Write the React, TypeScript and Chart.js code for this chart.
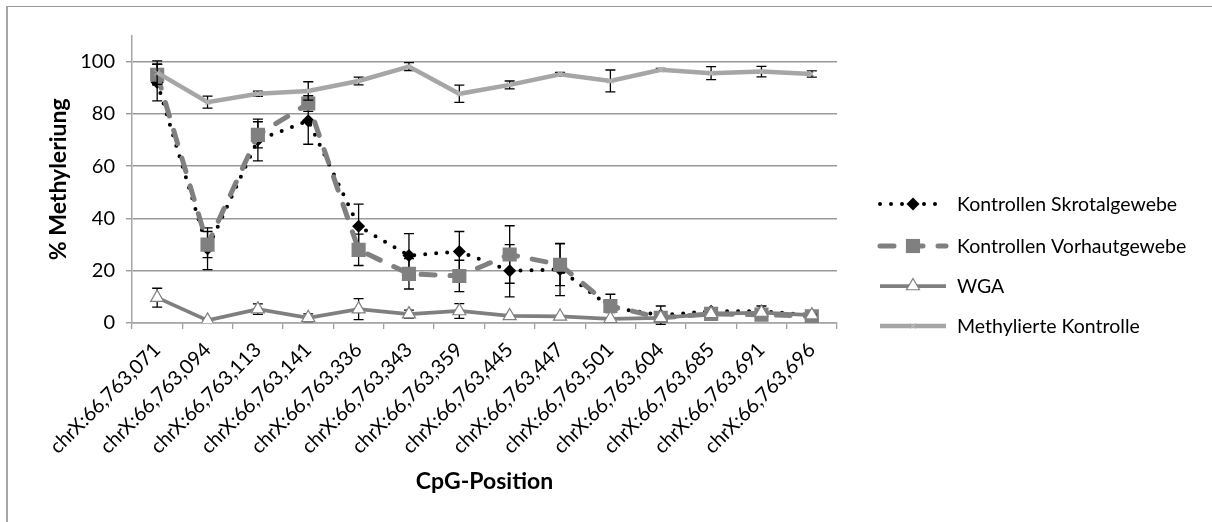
import React, { useEffect, useRef } from 'react';
import { Chart, registerables } from 'chart.js';

Chart.register(...registerables);

const categories = [
  'chrX:66,763,071', 'chrX:66,763,094', 'chrX:66,763,113', 'chrX:66,763,141',
  'chrX:66,763,336', 'chrX:66,763,343', 'chrX:66,763,359', 'chrX:66,763,445',
  'chrX:66,763,447', 'chrX:66,763,501', 'chrX:66,763,604', 'chrX:66,763,685',
  'chrX:66,763,691', 'chrX:66,763,696',
];

const skrotalValues = [92, 28.4, 70, 77.4, 37, 25.8, 27.4, 20, 20.5, 6, 3, 4.5, 4.5, 3];
const skrotalErrors = [7, 8, 8, 9, 8.5, 8.4, 7.6, 10, 10, 2, 3.5, 1, 2, 0.5];

const vorhautValues = [95, 30, 72, 84, 28, 18.8, 18, 26.2, 22.3, 6.5, 2, 3.5, 3.2, 2.6];
const vorhautErrors = [4, 5, 5, 3, 6, 5.8, 6, 11, 8, 4.5, 1, 0.5, 0.5, 0.5];

const wgaValues = [9.7, 1, 5.3, 2, 5.3, 3.4, 4.6, 2.7, 2.5, 1.6, 2, 3.5, 4, 3];
const wgaErrors = [3.6, 0.3, 2, 1.5, 4, 1.5, 2.8, 0, 0, 0, 0.3, 0.3, 0.3, 0.3];

const methylValues = [95.8, 84.5, 87.7, 88.8, 92.6, 98.1, 87.7, 91.1, 95.2, 92.6, 96.9, 95.6, 96.2, 95.3];
const methylErrors = [4.5, 2.3, 1, 3.5, 1.5, 1.5, 3.3, 1.5, 0.7, 4.2, 0.5, 2.5, 2, 1.2];

const seriesLabels = [
  'Kontrollen Skrotalgewebe',
  'Kontrollen Vorhautgewebe',
  'WGA',
  'Methylierte Kontrolle',
];

const yAxisTitle = '% Methyleriung';
const xAxisTitle = 'CpG-Position';

const FONT = 'Lato';
const TICK_SIZE = 20;
const LEGEND_SIZE = 19.5;
const TITLE_SIZE = 23;

function drawMarker(ctx: CanvasRenderingContext2D, style: string, x: number, y: number, r: number,
  fill: string, stroke: string, lw: number) {
  ctx.save();
  ctx.setLineDash([]);
  ctx.fillStyle = fill;
  ctx.strokeStyle = stroke;
  ctx.lineWidth = lw;
  ctx.beginPath();
  if (style === 'rectRot') {
    ctx.moveTo(x, y - r); ctx.lineTo(x + r, y); ctx.lineTo(x, y + r); ctx.lineTo(x - r, y); ctx.closePath();
    ctx.fill(); if (lw) ctx.stroke();
  } else if (style === 'rect') {
    const s = Math.SQRT1_2 * r;
    ctx.rect(x - s, y - s, 2 * s, 2 * s);
    ctx.fill(); if (lw) ctx.stroke();
  } else if (style === 'triangle') {
    ctx.moveTo(x, y - r);
    ctx.lineTo(x + Math.cos(Math.PI / 6) * r, y + Math.sin(Math.PI / 6) * r);
    ctx.lineTo(x - Math.cos(Math.PI / 6) * r, y + Math.sin(Math.PI / 6) * r);
    ctx.closePath();
    ctx.fill(); if (lw) ctx.stroke();
  } else if (style === 'crossRot') {
    const d = Math.SQRT1_2 * r;
    ctx.moveTo(x - d, y - d); ctx.lineTo(x + d, y + d);
    ctx.moveTo(x + d, y - d); ctx.lineTo(x - d, y + d);
    ctx.stroke();
  }
  ctx.restore();
}

const errorBarPlugin = {
  id: 'errorBars',
  beforeDatasetDraw(chart: any, args: any) {
    const ds = chart.data.datasets[args.index];
    const errs: number[] | undefined = ds.errors;
    if (!errs) return;
    const yScale = chart.scales.y;
    const ctx: CanvasRenderingContext2D = chart.ctx;
    ctx.save();
    ctx.strokeStyle = '#000';
    ctx.lineWidth = 1.3;
    ctx.setLineDash([]);
    args.meta.data.forEach((pt: any, i: number) => {
      const e = errs[i];
      if (!e) return;
      const v = ds.data[i];
      const yt = yScale.getPixelForValue(v + e);
      const yb = yScale.getPixelForValue(v - e);
      const x = pt.x;
      ctx.beginPath();
      ctx.moveTo(x, yt); ctx.lineTo(x, yb);
      ctx.moveTo(x - 5, yt); ctx.lineTo(x + 5, yt);
      ctx.moveTo(x - 5, yb); ctx.lineTo(x + 5, yb);
      ctx.stroke();
    });
    ctx.restore();
  },
};

const sideLegendPlugin = {
  id: 'sideLegend',
  afterDraw(chart: any) {
    const ctx: CanvasRenderingContext2D = chart.ctx;
    const x0 = 880, x1 = 946, xm = 913, tx = 957;
    const rows = [204, 246, 286, 326];
    chart.data.datasets.forEach((ds: any, i: number) => {
      const y = rows[i];
      ctx.save();
      ctx.strokeStyle = ds.borderColor;
      ctx.lineWidth = ds.borderWidth;
      ctx.lineCap = ds.borderCapStyle || 'butt';
      ctx.setLineDash(ds.borderDash || []);
      ctx.beginPath();
      ctx.moveTo(x0, y);
      ctx.lineTo(x1, y);
      ctx.stroke();
      drawMarker(ctx, ds.pointStyle, xm, y, ds.pointRadius, ds.pointBackgroundColor,
        ds.pointBorderColor, ds.pointBorderWidth);
      ctx.fillStyle = '#000';
      ctx.font = `${LEGEND_SIZE}px ${FONT}`;
      ctx.textBaseline = 'middle';
      ctx.textAlign = 'left';
      ctx.fillText(ds.label, tx, y + 1);
      ctx.restore();
    });
  },
};

export default function App() {
  const canvasRef = useRef<HTMLCanvasElement | null>(null);

  useEffect(() => {
    let chart: Chart | null = null;
    let cancelled = false;
    const make = () => {
      if (cancelled || !canvasRef.current) return;
      chart = new Chart(canvasRef.current, {
        type: 'line',
        data: {
          labels: categories,
          datasets: [
            {
              label: seriesLabels[0],
              data: skrotalValues,
              errors: skrotalErrors,
              borderColor: '#000000',
              borderWidth: 4,
              borderDash: [0, 11],
              borderCapStyle: 'round',
              pointStyle: 'rectRot',
              pointRadius: 6.5,
              pointBackgroundColor: '#000000',
              pointBorderColor: '#000000',
              pointBorderWidth: 0,
              tension: 0,
              order: 3,
            } as any,
            {
              label: seriesLabels[1],
              data: vorhautValues,
              errors: vorhautErrors,
              borderColor: '#808080',
              borderWidth: 5,
              borderDash: [14, 15],
              borderCapStyle: 'round',
              pointStyle: 'rect',
              pointRadius: 10,
              pointBackgroundColor: '#808080',
              pointBorderColor: '#808080',
              pointBorderWidth: 0,
              tension: 0,
              order: 2,
            } as any,
            {
              label: seriesLabels[2],
              data: wgaValues,
              errors: wgaErrors,
              borderColor: '#7f7f7f',
              borderWidth: 3.75,
              pointStyle: 'triangle',
              pointRadius: 7.5,
              pointBackgroundColor: '#ffffff',
              pointBorderColor: '#808080',
              pointBorderWidth: 1.2,
              tension: 0,
              order: 1,
            } as any,
            {
              label: seriesLabels[3],
              data: methylValues,
              errors: methylErrors,
              borderColor: '#a6a6a6',
              borderWidth: 4.5,
              pointStyle: 'crossRot',
              pointRadius: 4,
              pointBackgroundColor: '#a6a6a6',
              pointBorderColor: '#bdbdbd',
              pointBorderWidth: 1,
              tension: 0,
              order: 0,
            } as any,
          ],
        },
        options: {
          animation: false,
          responsive: false,
          events: [],
          layout: { padding: { left: 0, top: 35.5, right: 375, bottom: 0 } },
          plugins: {
            legend: { display: false },
            tooltip: { enabled: false },
          },
          scales: {
            x: {
              offset: true,
              grid: {
                offset: true,
                drawOnChartArea: false,
                drawTicks: true,
                tickLength: 6,
                color: '#a0a0a0',
                lineWidth: 1.3,
              },
              border: { color: '#a6a6a6', width: 1.5 },
              ticks: {
                autoSkip: false,
                minRotation: 45,
                maxRotation: 45,
                padding: 9,
                color: '#000000',
                font: { family: FONT, size: TICK_SIZE },
              },
              title: {
                display: true,
                text: xAxisTitle,
                color: '#000000',
                font: { family: FONT, size: TITLE_SIZE, weight: 'bold' },
                padding: { top: 0, bottom: 27 },
              },
              afterFit: (scale: any) => { scale.height = 199; },
            },
            y: {
              min: 0,
              max: 110,
              ticks: {
                stepSize: 20,
                padding: 11,
                color: '#000000',
                font: { family: FONT, size: TICK_SIZE },
              },
              afterBuildTicks: (scale: any) => {
                scale.ticks = scale.ticks.filter((t: any) => t.value <= 100);
              },
              grid: {
                color: '#9a9a9a',
                lineWidth: 1.4,
                tickLength: 6,
              },
              border: { color: '#a6a6a6', width: 1.5 },
              title: {
                display: true,
                text: yAxisTitle,
                color: '#000000',
                font: { family: FONT, size: TITLE_SIZE, weight: 'bold' },
                padding: { top: 45, bottom: 0 },
              },
              afterFit: (scale: any) => { scale.width = 132; },
            },
          },
        },
        plugins: [errorBarPlugin, sideLegendPlugin],
      } as any);
    };
    const fontsApi: any = (document as any).fonts;
    if (fontsApi && fontsApi.load) {
      Promise.all([
        fontsApi.load(`${TICK_SIZE}px ${FONT}`),
        fontsApi.load(`bold ${TITLE_SIZE}px ${FONT}`),
      ]).then(make, make);
    } else {
      make();
    }
    return () => {
      cancelled = true;
      if (chart) chart.destroy();
    };
  }, []);

  return (
    <div style={{ position: 'fixed', left: 0, top: 0, width: 1212, height: 522, overflow: 'hidden', background: '#ffffff' }}>
      <div style={{
        position: 'absolute', left: 6, top: 6, width: 1300, height: 700,
        borderTop: '1px solid #9a9a9a', borderLeft: '2px solid #a6a6a6',
      }} />
      <canvas ref={canvasRef} width={1212} height={522}
        style={{ position: 'absolute', left: 0, top: 0, width: 1212, height: 522 }} />
    </div>
  );
}
